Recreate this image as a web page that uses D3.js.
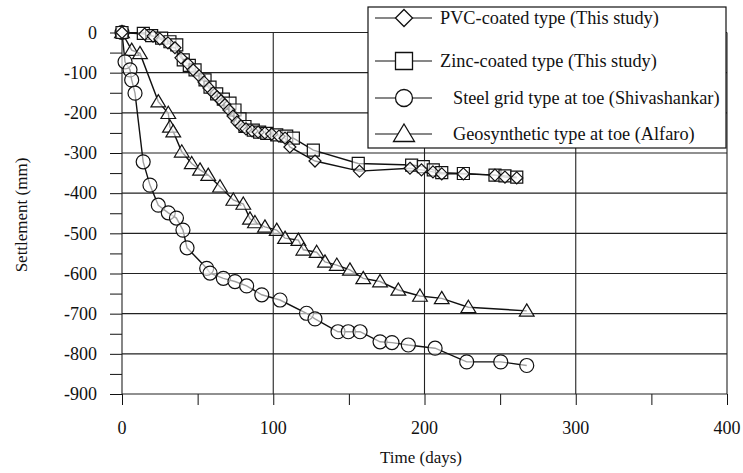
<!DOCTYPE html>
<head>
<meta charset="utf-8">
<script src="https://cdn.jsdelivr.net/npm/d3@7"></script>
<style>
  body { margin: 0; background: #fff; }
</style>
</head>
<body>
<div id="chart"></div>
<script>
const width = 743, height = 473;

// data (time in days, settlement in mm)
const pvcT = [0, 15, 20.5, 25, 30.4, 35, 39, 43.6, 47, 51, 54.2, 57.5, 60.2, 62.8, 65.5, 68, 70.7, 73.4, 76, 78.7, 82, 86, 90, 94.5, 99, 103.8, 107.8, 111, 127.6, 157, 190.4, 198, 205.6, 211.4, 225.7, 246.6, 253.2, 261];
const pvcS = [0, -4, -9, -16, -26, -38, -63, -78, -93, -108, -123, -138, -150, -160, -170, -180, -193, -208, -223, -233, -240, -245, -248, -250, -253, -258, -263, -285, -320, -345, -338, -342, -347, -352, -352, -355, -360, -362];

const zincT = [0, 14.1, 19.6, 26.2, 31.7, 36.2, 40.5, 44.5, 48.3, 54.9, 58.2, 62.6, 67, 71.4, 74.7, 78, 81.3, 86.8, 91, 95.7, 102.3, 108.9, 113.3, 126.5, 156.2, 191.5, 199.2, 205.8, 211.4, 225.7, 246.6, 253.2, 261];
const zincS = [0, -2, -8, -14, -23, -31, -68, -82, -93, -118, -136, -153, -166, -176, -193, -215, -234, -243, -248, -251, -255, -258, -263, -293, -326, -330, -334, -342, -349, -351, -355, -357, -360];

const steelT = [0, 2, 5.3, 6.4, 8.6, 14, 18.5, 24, 30.6, 36, 40.3, 43, 56, 58.2, 67, 74.7, 82.4, 92.4, 104.5, 122, 127.6, 142.8, 149.6, 157.4, 170.6, 178.5, 189.3, 207, 227.9, 250.4, 267.6];
const steelS = [0, -73, -93, -118, -151, -322, -380, -430, -449, -462, -492, -536, -587, -599, -612, -620, -631, -653, -666, -699, -713, -745, -745, -745, -770, -772, -778, -786, -820, -820, -829];

const geoT = [0, 6.4, 11.9, 24, 30.6, 31.7, 33.9, 39.5, 46.1, 51.6, 57, 64.8, 73.6, 80.2, 84.6, 87.9, 94.5, 102.3, 107.8, 116.6, 119.9, 128.7, 134.2, 142, 150.7, 159.5, 170.6, 182.7, 197, 211.4, 229, 267.6];
const geoS = [0, -44, -52, -172, -201, -235, -247, -297, -326, -342, -355, -384, -417, -427, -464, -473, -484, -492, -512, -517, -541, -547, -571, -579, -591, -612, -620, -641, -656, -662, -684, -693];

const seriesNames = ["PVC-coated type (This study)", "Zinc-coated type (This study)",
  "Steel grid type at toe (Shivashankar)", "Geosynthetic type at toe (Alfaro)"];
const markerTypes = ["diamond", "square", "circle", "triangle"];

const xTicks = [0, 100, 200, 300, 400];
const yTicks = [0, -100, -200, -300, -400, -500, -600, -700, -800, -900];

const series = [
  { name: seriesNames[0], marker: markerTypes[0], pts: pvcT.map((t, i) => [t, pvcS[i]]) },
  { name: seriesNames[1], marker: markerTypes[1], pts: zincT.map((t, i) => [t, zincS[i]]) },
  { name: seriesNames[2], marker: markerTypes[2], pts: steelT.map((t, i) => [t, steelS[i]]) },
  { name: seriesNames[3], marker: markerTypes[3], pts: geoT.map((t, i) => [t, geoS[i]]) }
];

const serif = "Liberation Serif, Times New Roman, serif";

const x = d3.scaleLinear().domain([0, 400]).range([122, 727]);
const y = d3.scaleLinear().domain([0, -900]).range([32.5, 394]);

const svg = d3.select("#chart").append("svg")
  .attr("width", width).attr("height", height)
  .attr("font-family", serif);

// axes: ticks pointing outward, every 50
const yAxis = d3.axisLeft(y).tickValues(d3.range(0, -901, -50)).tickSize(12).tickFormat("");
svg.append("g").attr("transform", "translate(122,0)").call(yAxis)
  .call(g => g.select(".domain").remove())
  .selectAll("line").attr("stroke", "#111");
const xAxis = d3.axisBottom(x).tickValues(d3.range(0, 401, 50)).tickSize(11).tickFormat("");
svg.append("g").attr("transform", "translate(0,394)").call(xAxis)
  .call(g => g.select(".domain").remove())
  .selectAll("line").attr("stroke", "#111");

// grid
svg.append("g").selectAll("line").data(yTicks).join("line")
  .attr("x1", x(0)).attr("x2", x(400))
  .attr("y1", d => y(d)).attr("y2", d => y(d))
  .attr("stroke", "#222").attr("stroke-width", 1.1);
svg.append("g").selectAll("line").data(xTicks).join("line")
  .attr("x1", d => x(d)).attr("x2", d => x(d))
  .attr("y1", y(0)).attr("y2", y(-900))
  .attr("stroke", "#222").attr("stroke-width", 1.1);

// tick labels
svg.append("g").selectAll("text").data(yTicks).join("text")
  .attr("x", 97).attr("y", d => y(d)).attr("dy", "0.35em")
  .attr("text-anchor", "end").attr("font-size", 18).attr("fill", "#111")
  .text(d => d);
svg.append("g").selectAll("text").data(xTicks).join("text")
  .attr("x", d => x(d)).attr("y", 428).attr("dy", "0.35em")
  .attr("text-anchor", "middle").attr("font-size", 18).attr("fill", "#111")
  .text(d => d);

svg.append("text").attr("x", 421).attr("y", 463)
  .attr("text-anchor", "middle").attr("font-size", 17).attr("fill", "#111").text("Time (days)");
svg.append("text").attr("transform", "translate(27,215) rotate(-90)")
  .attr("text-anchor", "middle").attr("font-size", 17).attr("fill", "#111").text("Settlement (mm)");

// marker paths
function markerPath(type, s) {
  if (type === "diamond") return `M0,${-s}L${s},0L0,${s}L${-s},0Z`;
  if (type === "square") return `M${-s},${-s}H${s}V${s}H${-s}Z`;
  if (type === "circle") return d3.symbol(d3.symbolCircle, Math.PI * s * s)();
  if (type === "triangle") return `M0,${-s}L${s * 1.05},${s * 0.75}H${-s * 1.05}Z`;
}
const markerSize = { diamond: 6, square: 6, circle: 7, triangle: 7 };

const line = d3.line().x(d => x(d[0])).y(d => y(d[1]));

series.forEach(s => {
  svg.append("path").attr("d", line(s.pts))
    .attr("fill", "none").attr("stroke", "#111").attr("stroke-width", 1.4);
});
series.slice().reverse().forEach(s => {
  svg.append("g").selectAll("path").data(s.pts).join("path")
    .attr("transform", d => `translate(${x(d[0])},${y(d[1])})`)
    .attr("d", markerPath(s.marker, markerSize[s.marker]))
    .attr("fill", "#fff").attr("fill-opacity", 0.6)
    .attr("stroke", "#111").attr("stroke-width", 1.2);
});

// legend
const legend = svg.append("g");
legend.append("rect").attr("x", 368).attr("y", 7).attr("width", 358).attr("height", 141)
  .attr("fill", "#fff").attr("stroke", "#111").attr("stroke-width", 1.2);
const rowY = [18, 61, 98, 134];
const textX = [440, 440, 453, 453];
series.forEach((s, i) => {
  legend.append("line").attr("x1", 375).attr("x2", 432)
    .attr("y1", rowY[i]).attr("y2", rowY[i]).attr("stroke", "#111").attr("stroke-width", 1.2);
  legend.append("path").attr("transform", `translate(404,${rowY[i]})`)
    .attr("d", markerPath(s.marker, s.marker === "triangle" ? 10 : 8.5))
    .attr("fill", "#fff").attr("stroke", "#111").attr("stroke-width", 1.3);
  legend.append("text").attr("x", textX[i]).attr("y", rowY[i]).attr("dy", "0.35em")
    .attr("font-size", 18.3).attr("fill", "#111").text(s.name);
});
</script>
</body>
